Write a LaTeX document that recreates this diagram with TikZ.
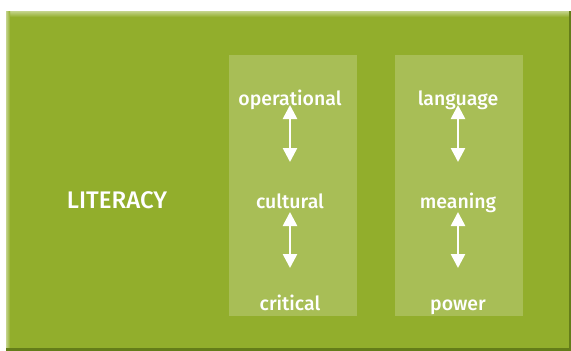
\documentclass[tikz,border=0pt]{standalone}
\usepackage{fontspec}
\setmainfont{Fira Sans}
\newfontfamily\midfont{Fira Sans Medium}
\usetikzlibrary{arrows.meta}
\definecolor{leaf}{RGB}{146,174,44}
\definecolor{leaflight}{RGB}{168,190,86}
\definecolor{leafdark}{RGB}{100,125,25}
\definecolor{leafshine}{RGB}{196,212,140}
\tikzset{
  panel/.style={fill=leaflight, draw=none},
  term/.style={text=white, font=\midfont\fontsize{19.5}{22}\selectfont, inner sep=0pt, anchor=base},
  title/.style={text=white, font=\midfont\fontsize{24}{28}\selectfont, inner sep=0pt, anchor=base},
  link/.style={white, line width=2.6pt, {Triangle[length=14pt,width=14pt]}-{Triangle[length=14pt,width=14pt]}}
}
\begin{document}
\begin{tikzpicture}[x=1pt,y=-1pt]
  \useasboundingbox (0,0) rectangle (571,351);
  % board with bevelled edges
  \fill[leaf] (6,11) rectangle (571,351);
  \fill[top color=leafshine, bottom color=leaf] (6,11) rectangle (571,17);
  \fill[left color=leafshine, right color=leaf] (6,11) rectangle (10,351);
  \fill[leafdark] (6,348) rectangle (571,351);
  \fill[leafdark] (569,11) rectangle (571,351);
  % two columns
  \fill[panel] (229,55) rectangle (357,316);
  \fill[panel] (395,55) rectangle (523,316);
  % labels
  \node[title] (lit) at (117,208) {LITERACY};
  \node[term] (op)  at (290,105) {operational};
  \node[term] (cu)  at (290,208) {cultural};
  \node[term] (cr)  at (290,310) {critical};
  \node[term] (la)  at (458,105) {language};
  \node[term] (me)  at (458,208) {meaning};
  \node[term] (po)  at (458,310) {power};
  % links between levels
  \coordinate (a1) at (290,105); \coordinate (a2) at (290,162);
  \coordinate (b1) at (290,212); \coordinate (b2) at (290,268);
  \coordinate (c1) at (458,105); \coordinate (c2) at (458,162);
  \coordinate (d1) at (458,212); \coordinate (d2) at (458,268);
  \draw[link] (a1) -- (a2);
  \draw[link] (b1) -- (b2);
  \draw[link] (c1) -- (c2);
  \draw[link] (d1) -- (d2);
\end{tikzpicture}
\end{document}
